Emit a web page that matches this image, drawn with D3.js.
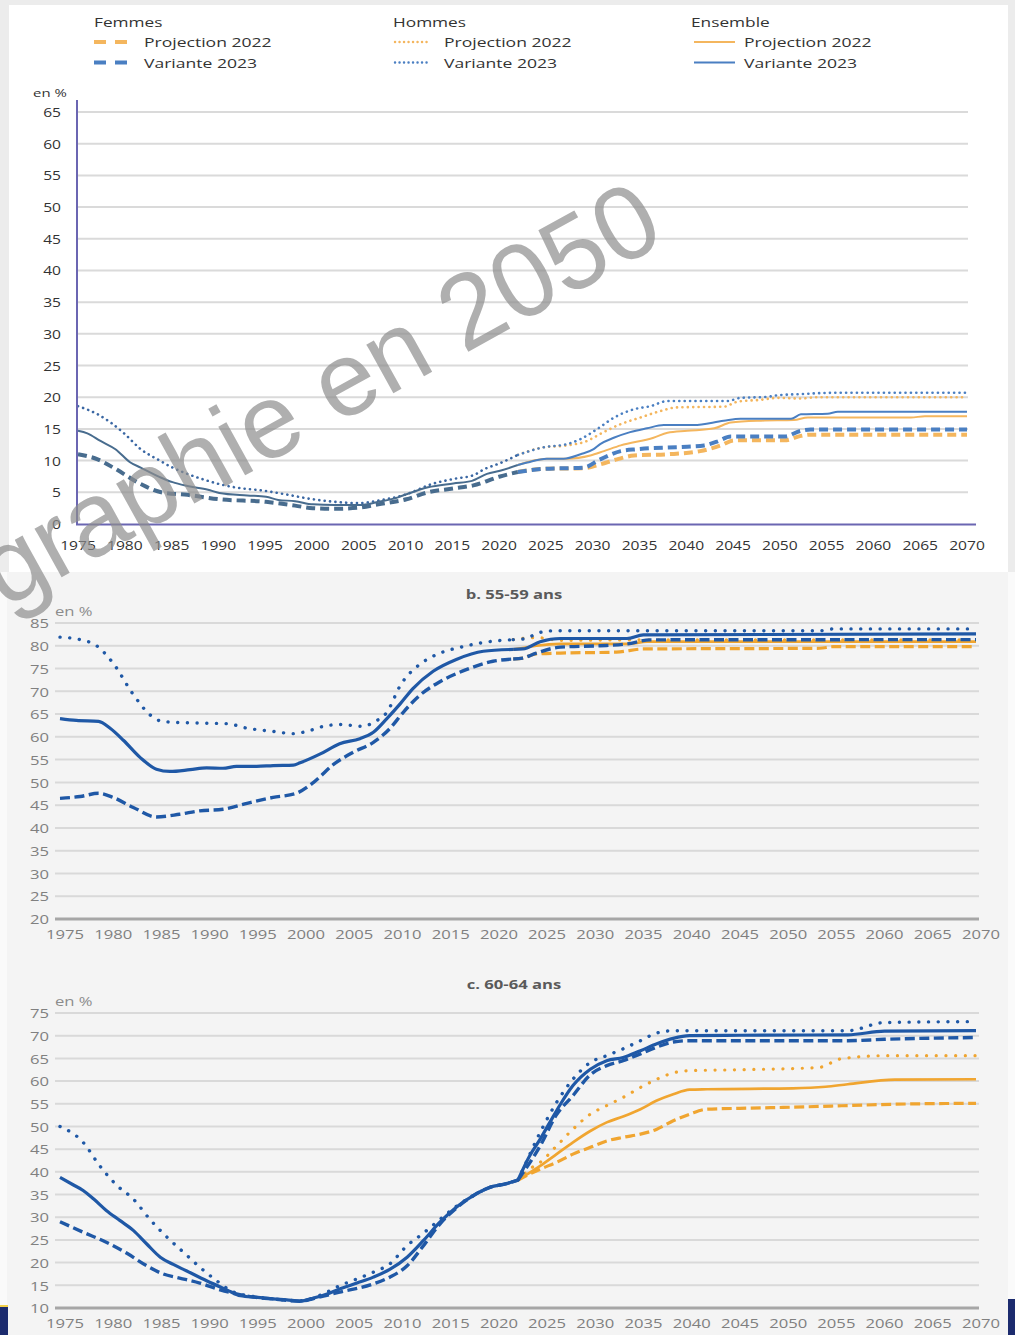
<!DOCTYPE html>
<html>
<head>
<meta charset="utf-8">
<script src="https://cdn.jsdelivr.net/npm/d3@7"></script>
<style>
  body { margin: 0; background: #ececec; }
  svg { display: block; font-family: "Open Sans", "Noto Sans", sans-serif; }
</style>
</head>
<body>
<svg id="chart" width="1015" height="1335"></svg>
<script>
// ---- tick labels / categories ----
const xTickYears = [1975, 1980, 1985, 1990, 1995, 2000, 2005, 2010, 2015, 2020, 2025, 2030, 2035, 2040, 2045, 2050, 2055, 2060, 2065, 2070];
const yTicksA = [0, 5, 10, 15, 20, 25, 30, 35, 40, 45, 50, 55, 60, 65];
const yTicksB = [20, 25, 30, 35, 40, 45, 50, 55, 60, 65, 70, 75, 80, 85];
const yTicksC = [10, 15, 20, 25, 30, 35, 40, 45, 50, 55, 60, 65, 70, 75];
const legendGroups = ['Femmes', 'Hommes', 'Ensemble'];
const legendItems = ['Projection 2022', 'Variante 2023'];
const panelTitles = ['b. 55-59 ans', 'c. 60-64 ans'];

// ---- panel a (top, [year, %]) ----
const aHistHommes = [[1975,18.6],[1977.1,17.3],[1978.5,16.0],[1980,14.2],[1981.7,11.8],[1983.5,10.2],[1985.1,8.9],[1986.7,7.9],[1988.9,6.8],[1990.1,6.3],[1991.7,5.8],[1995.1,5.2],[1997.1,4.7],[2000.1,3.9],[2002.4,3.5],[2005.1,3.3],[2007.1,3.7],[2010.1,4.7],[2012.8,6.3],[2015.1,7.1],[2017.25,7.7],[2018.5,8.7],[2020.1,9.6],[2022,10.9]];
const aHistEnsemble = [[1975,14.7],[1976,14.3],[1977.4,13.1],[1979,11.8],[1980.6,9.7],[1981.7,8.9],[1983.9,7.3],[1985.1,6.6],[1986.7,6.0],[1988.9,5.4],[1990.1,4.9],[1993.1,4.5],[1995.1,4.3],[1996.4,3.8],[1998.2,3.6],[2000.1,3.1],[2002.4,3.0],[2005.1,3.0],[2007.1,3.5],[2009.2,4.2],[2010.1,4.7],[2012.4,5.8],[2015.1,6.4],[2017.1,6.8],[2018.7,7.9],[2020.1,8.4],[2022,9.3]];
const aHistFemmes = [[1975,11.0],[1977.1,10.2],[1979,8.7],[1981.7,6.3],[1983.9,5.0],[1986.7,4.6],[1990.1,3.9],[1995.1,3.5],[1998.2,2.9],[2000.1,2.5],[2002.4,2.4],[2005.1,2.6],[2007.1,3.1],[2010.1,3.9],[2012.4,5.0],[2015.1,5.6],[2017.25,6.1],[2020.1,7.5],[2022,8.2]];
const aVarHommes = [[2022,10.9],[2024.75,12.1],[2027.25,12.6],[2028.7,13.4],[2030.5,15.0],[2032.3,16.8],[2034.4,18.1],[2036.2,18.6],[2038,19.4],[2044.4,19.4],[2045.8,19.9],[2048.6,20.05],[2049.7,20.3],[2052.25,20.5],[2055.8,20.7],[2070,20.7]];
const aProjHommes = [[2022,10.9],[2024.75,12.1],[2027.25,12.4],[2029.4,13.1],[2030.8,14.2],[2032.9,15.7],[2035.1,16.8],[2037.2,17.8],[2039,18.4],[2044,18.5],[2045.5,19.3],[2048,19.6],[2049.8,19.9],[2052.25,19.8],[2054,20.0],[2070,20.0]];
const aVarEnsemble = [[2022,9.3],[2023,9.7],[2025.1,10.3],[2026.9,10.3],[2028.7,11.0],[2030.1,11.8],[2030.8,12.6],[2032.25,13.6],[2034,14.5],[2035.8,15.1],[2037.6,15.6],[2040.8,15.6],[2044,16.3],[2045.8,16.6],[2051.2,16.6],[2052.25,17.3],[2055.1,17.4],[2056.2,17.7],[2070,17.7]];
const aProjEnsemble = [[2022,9.3],[2025.1,10.3],[2027.25,10.3],[2029.75,10.8],[2031.2,11.5],[2033,12.4],[2036.5,13.6],[2038,14.4],[2040.1,14.7],[2043,15.1],[2044.75,16.0],[2048,16.3],[2051.5,16.4],[2053,16.8],[2064,16.8],[2065.5,17.0],[2070,17.0]];
const aVarFemmes = [[2022,8.2],[2024.75,8.7],[2029,8.9],[2030.8,10.2],[2033,11.5],[2034.75,11.8],[2040.1,12.2],[2041.9,12.4],[2043.3,13.0],[2044.75,13.8],[2050.5,13.8],[2052.25,14.7],[2053.3,14.9],[2070,14.9]];
const aProjFemmes = [[2022,8.2],[2024.75,8.7],[2029,8.8],[2030.8,9.4],[2032.6,10.2],[2034.4,10.8],[2038,11.0],[2041.5,11.5],[2043.7,12.4],[2045.1,13.2],[2050.5,13.2],[2052.25,13.9],[2053.3,14.1],[2070,14.1]];

// ---- panel b : 55-59 ans ----
const bHistHommes = [[1975,81.9],[1977.1,81.35],[1978.8,80.0],[1980.5,76.2],[1982.6,69.3],[1984.3,64.9],[1985.4,63.5],[1986.8,63.2],[1990.2,63.0],[1992.3,62.9],[1994.4,61.9],[1997.1,61.2],[1999.2,60.7],[2000.6,61.2],[2002.3,62.3],[2004,62.7],[2006.5,62.3],[2007.5,63.2],[2008.9,65.4],[2010.3,71.3],[2012.3,75.9],[2013.7,77.7],[2017.2,80.0],[2019.9,81.0],[2022,81.35]];
const bHistEnsemble = [[1975,64.0],[1976.7,63.6],[1979,63.4],[1980.2,61.9],[1981.6,59.2],[1983.3,55.5],[1985,52.9],[1986.4,52.4],[1988.5,52.8],[1990.2,53.2],[1991.9,53.1],[1993.3,53.5],[1995.4,53.5],[1997.1,53.7],[1999.2,53.8],[1999.9,54.3],[2002,56.25],[2004,58.5],[2006.1,59.6],[2007.5,61.0],[2008.9,64.0],[2010.3,67.3],[2011.6,70.6],[2013.7,74.4],[2016.1,77.0],[2018.9,78.8],[2022,79.2]];
const bHistFemmes = [[1975,46.5],[1977.1,46.9],[1979,47.6],[1980.5,46.7],[1982.6,44.5],[1985,42.4],[1987.4,43.0],[1989.5,43.75],[1991.9,44.1],[1994.4,45.4],[1997.1,46.7],[1999.5,47.6],[2001.3,50.0],[2003.4,54.0],[2005.4,56.6],[2007.5,58.8],[2009.2,61.8],[2010.6,65.4],[2012.3,69.1],[2014.4,72.1],[2017.2,74.8],[2019.9,76.6],[2022,77.1]];
const bVarHommes = [[2022,81.35],[2023.4,81.6],[2024.4,82.7],[2026.2,83.3],[2053.8,83.3],[2055.2,83.7],[2070,83.7]];
const bProjHommes = [[2022,81.35],[2024.4,81.8],[2026.9,81.2],[2035.5,81.3],[2070,81.3]];
const bVarEnsemble = [[2022,79.2],[2023,79.3],[2024.8,80.9],[2026.9,81.6],[2033.8,81.6],[2035.5,82.4],[2070,82.6]];
const bProjEnsemble = [[2022,79.2],[2023,79.5],[2024.4,80.0],[2026.9,80.4],[2033.8,80.4],[2035.9,80.9],[2070,80.9]];
const bVarFemmes = [[2022,77.1],[2023,77.3],[2024.4,78.4],[2026.9,79.7],[2031,80.0],[2033.8,80.4],[2036.2,81.3],[2070,81.35]];
const bProjFemmes = [[2022,77.1],[2023,77.3],[2024.4,78.2],[2026.9,78.4],[2032.7,78.6],[2035.5,79.3],[2053.8,79.45],[2055.2,79.8],[2070,79.8]];

// ---- panel c : 60-64 ans ----
const cHistHommes = [[1975,50.0],[1977.4,46.5],[1979.1,41.4],[1980.9,37.0],[1982.6,34.0],[1984.3,29.6],[1986.1,25.6],[1987.8,22.3],[1989.5,19.0],[1991.25,16.0],[1993,13.5],[1995.5,12.4],[1997.1,12.0],[1999.9,11.6],[2002.3,13.1],[2004,14.9],[2005.8,16.4],[2007.5,17.9],[2009.2,19.7],[2011,23.75],[2012.7,26.5],[2014.4,29.5],[2016.1,32.4],[2017.9,34.8],[2019.6,36.6],[2021.3,37.4],[2022.5,38.2]];
const cHistEnsemble = [[1975,38.8],[1976.4,37.1],[1977.4,35.9],[1978.5,34.0],[1979.8,31.5],[1981.2,29.3],[1982.6,27.1],[1984,24.1],[1985.4,21.2],[1986.75,19.6],[1988.1,18.2],[1990.2,16.0],[1992.3,14.0],[1993.7,12.7],[1995.5,12.35],[1997.1,12.0],[1998.5,11.8],[1999.9,11.5],[2001.3,12.2],[2002.7,13.1],[2004,14.2],[2005.8,15.5],[2007.5,16.8],[2009.2,18.5],[2011,21.2],[2012.7,24.9],[2014.4,28.9],[2016.1,32.2],[2017.9,34.8],[2019.6,36.6],[2021.3,37.4],[2022.5,38.2]];
const cHistFemmes = [[1975,29.0],[1977.4,26.7],[1979.8,24.5],[1981.9,22.1],[1984,19.3],[1985.7,17.5],[1987.4,16.6],[1989.5,15.5],[1991.6,14.0],[1993.3,13.1],[1995.5,12.3],[1997.1,12.0],[1999.9,11.5],[2001.3,12.1],[2004,13.5],[2007.5,15.3],[2009.2,16.8],[2011,19.3],[2012.7,23.75],[2014.4,28.5],[2016.1,32.0],[2017.9,34.8],[2019.6,36.6],[2021.3,37.4],[2022.5,38.2]];
const cVarHommes = [[2022.5,38.2],[2022.7,39.1],[2024.8,48.7],[2026.5,55.3],[2028.2,60.4],[2030,64.1],[2031.7,65.6],[2033.4,67.1],[2035.2,68.9],[2036.9,70.6],[2038.6,71.1],[2056.7,71.1],[2060.5,72.9],[2070,73.1]];
const cProjHommes = [[2022.5,38.2],[2023.7,40.6],[2024.8,42.1],[2026.5,45.7],[2028.2,49.4],[2030,52.7],[2031.7,54.6],[2033.4,56.4],[2035.2,58.6],[2036.9,60.4],[2038.6,61.8],[2040.3,62.3],[2045.5,62.5],[2053.7,63.0],[2056,64.9],[2060.5,65.6],[2070,65.6]];
const cVarEnsemble = [[2022.5,38.2],[2023.7,43.5],[2024.8,47.2],[2025.8,50.9],[2026.9,54.9],[2028.2,59.0],[2030,62.6],[2031.7,64.5],[2033.4,65.2],[2035.2,66.7],[2036.9,68.2],[2038.6,69.4],[2040.3,70.0],[2045.5,70.1],[2056.7,70.2],[2060.5,71.0],[2070,71.1]];
const cProjEnsemble = [[2022.5,38.2],[2024.8,41.3],[2026.5,43.9],[2028.2,46.5],[2030,49.0],[2031.7,50.9],[2033.4,52.2],[2035.2,53.8],[2036.9,55.7],[2038.6,57.1],[2040.3,58.1],[2042.1,58.2],[2051,58.4],[2054.4,58.75],[2056.7,59.3],[2061.6,60.3],[2070,60.4]];
const cVarFemmes = [[2022.5,38.2],[2024.8,45.7],[2026.5,52.6],[2028.2,56.8],[2030,61.4],[2031.7,63.4],[2033.4,64.5],[2035.2,66.0],[2036.9,67.5],[2038.6,68.6],[2040.3,68.9],[2056.7,68.9],[2060.5,69.2],[2070,69.6]];
const cProjFemmes = [[2022.5,38.2],[2024.8,40.6],[2026.5,42.1],[2028.2,43.9],[2030,45.4],[2031.7,46.8],[2033.4,47.6],[2035.2,48.3],[2036.9,49.4],[2038.6,51.25],[2040.3,52.7],[2042.1,53.8],[2045.5,54.0],[2050,54.2],[2056.7,54.6],[2061.6,54.9],[2070,55.1]];

const svg = d3.select('#chart');

// text drawn slightly stretched, like the (widened) source image
function label(g, x, y, str, o) {
    return g.append('text')
        .attr('transform', 'translate(' + x + ',' + y + ') scale(' + (o.sx || 1.28) + ',1)')
        .attr('text-anchor', o.anchor || 'start')
        .attr('dominant-baseline', 'central')
        .style('font-size', o.size + 'px')
        .style('font-weight', o.weight || 'normal')
        .attr('fill', o.fill || '#333')
        .text(str);
}

function drawLine(g, x, y, data, color, kind, theme) {
    const st = theme[kind];
    const gen = d3.line().x(d => x(d[0])).y(d => y(d[1])).curve(d3.curveMonotoneX);
    g.append('path')
        .attr('d', gen(data))
        .attr('fill', 'none')
        .attr('stroke', color)
        .attr('stroke-width', st.w)
        .attr('stroke-dasharray', st.dash || null)
        .attr('stroke-linecap', st.cap || 'butt')
        .attr('stroke-linejoin', 'round');
}

// ---- backgrounds ----
svg.append('rect').attr('x', 0).attr('y', 572).attr('width', 1015).attr('height', 763).attr('fill', '#fafafa');
svg.append('rect').attr('x', 9).attr('y', 5).attr('width', 999).attr('height', 567).attr('fill', '#fff');
svg.append('rect').attr('x', 7).attr('y', 572).attr('width', 1001).attr('height', 763).attr('fill', '#f4f4f4');
svg.append('rect').attr('x', 0).attr('y', 1305).attr('width', 8).attr('height', 2).attr('fill', '#f2d04a');
svg.append('rect').attr('x', 0).attr('y', 1307).attr('width', 8).attr('height', 28).attr('fill', '#1c2b6e');
svg.append('rect').attr('x', 1008).attr('y', 1299).attr('width', 7).attr('height', 36).attr('fill', '#1c2b6e');

// ================= panel a =================
const themeA = {
    solid:  { w: 2 },
    dashed: { w: 4, dash: '9 5' },
    dotted: { w: 2.6, dash: '0.1 5.3', cap: 'round' }
};
const orangeA = '#f4b65e', blueA = '#4a7fc2', histA = '#486c8e', histDotA = '#3a67a3';

const xA = d3.scaleLinear().domain([1975, 2070]).range([78, 967]);
const yA = d3.scaleLinear().domain([0, 65]).range([524, 112]);
const gA = svg.append('g');

gA.selectAll('line.grid').data(yTicksA.filter(v => v > 0)).enter().append('line')
    .attr('x1', 77).attr('x2', 968)
    .attr('y1', d => yA(d)).attr('y2', d => yA(d))
    .attr('stroke', '#dadada').attr('stroke-width', 2);

yTicksA.forEach(v => label(gA, 61, yA(v), String(v), { size: 13, sx: 1.2, anchor: 'end', fill: '#333' }));
xTickYears.forEach(v => label(gA, xA(v), 545, String(v), { size: 13, sx: 1.2, anchor: 'middle', fill: '#333' }));
label(gA, 33, 93, 'en %', { size: 11.5, sx: 1.3, fill: '#333' });

drawLine(gA, xA, yA, aProjFemmes, orangeA, 'dashed', themeA);
drawLine(gA, xA, yA, aProjHommes, orangeA, 'dotted', themeA);
drawLine(gA, xA, yA, aProjEnsemble, orangeA, 'solid', themeA);
drawLine(gA, xA, yA, aVarFemmes, blueA, 'dashed', themeA);
drawLine(gA, xA, yA, aVarHommes, blueA, 'dotted', themeA);
drawLine(gA, xA, yA, aVarEnsemble, blueA, 'solid', themeA);
drawLine(gA, xA, yA, aHistFemmes, histA, 'dashed', themeA);
drawLine(gA, xA, yA, aHistHommes, histDotA, 'dotted', themeA);
drawLine(gA, xA, yA, aHistEnsemble, histA, 'solid', themeA);

// axes lines
gA.append('line').attr('x1', 77).attr('x2', 77).attr('y1', 100).attr('y2', 525)
    .attr('stroke', '#6b66b2').attr('stroke-width', 2);
gA.append('line').attr('x1', 76).attr('x2', 976).attr('y1', 524.5).attr('y2', 524.5)
    .attr('stroke', '#6b66b2').attr('stroke-width', 2);

// legend
const legCols = [94, 393, 691];
const legKinds = ['dashed', 'dotted', 'solid'];
const legRows = [42, 62.5];
const legSample = {
    dashed: { x1: 94, x2: 129, w: 4, dash: '12 9' },
    dotted: { x1: 395, x2: 431, w: 2.4, dash: '0.1 4.4', cap: 'round' },
    solid:  { x1: 694, x2: 735, w: 2 }
};
const legTextX = [144, 444, 744];
legendGroups.forEach((name, i) => {
    label(gA, legCols[i], 22, name, { size: 13.5, sx: 1.28, fill: '#333' });
    legendItems.forEach((item, j) => {
        const s = legSample[legKinds[i]];
        gA.append('line')
            .attr('x1', s.x1).attr('x2', s.x2).attr('y1', legRows[j]).attr('y2', legRows[j])
            .attr('stroke', j === 0 ? orangeA : blueA)
            .attr('stroke-width', s.w)
            .attr('stroke-dasharray', s.dash || null)
            .attr('stroke-linecap', s.cap || 'butt');
        label(gA, legTextX[i], legRows[j], item, { size: 13.5, sx: 1.3, fill: '#333' });
    });
});

// ================= panels b and c =================
const themeBC = {
    solid:  { w: 3.2 },
    dashed: { w: 3.4, dash: '10 4.5' },
    dotted: { w: 3.4, dash: '0.1 9.6', cap: 'round' }
};
const themeBCo = {
    solid:  { w: 2.7 },
    dashed: { w: 3.2, dash: '10 4.5' },
    dotted: { w: 3.2, dash: '0.1 9.6', cap: 'round' }
};
const orangeBC = '#f0a530', blueBC = '#1f58a6';

function lowerPanel(title, ticks, top, bottom, titleY, series) {
    const x = d3.scaleLinear().domain([1975, 2070]).range([60, 976]);
    const y = d3.scaleLinear().domain([ticks[0], ticks[ticks.length - 1]]).range([bottom, top]);
    const g = svg.append('g');

    g.selectAll('line.grid').data(ticks.slice(1)).enter().append('line')
        .attr('x1', 55).attr('x2', 979)
        .attr('y1', d => y(d)).attr('y2', d => y(d))
        .attr('stroke', '#d9d9d9').attr('stroke-width', 2);
    g.append('line').attr('x1', 55).attr('x2', 979)
        .attr('y1', y(ticks[0])).attr('y2', y(ticks[0]))
        .attr('stroke', '#a6a6a6').attr('stroke-width', 3);

    ticks.forEach(v => label(g, 49, y(v), String(v), { size: 13, fill: '#808080', anchor: 'end' }));
    xTickYears.forEach(v => label(g, x(v) + 5, bottom + 15, String(v), { size: 13, fill: '#808080', anchor: 'middle' }));
    label(g, 55, top - 12, 'en %', { size: 13, fill: '#8c8c8c' });
    label(g, 514, titleY, title, { size: 13, weight: 'bold', fill: '#5a5a5a', anchor: 'middle' });

    drawLine(g, x, y, series.projF, orangeBC, 'dashed', themeBCo);
    drawLine(g, x, y, series.projH, orangeBC, 'dotted', themeBCo);
    drawLine(g, x, y, series.projE, orangeBC, 'solid', themeBCo);
    drawLine(g, x, y, series.varF, blueBC, 'dashed', themeBC);
    drawLine(g, x, y, series.varH, blueBC, 'dotted', themeBC);
    drawLine(g, x, y, series.varE, blueBC, 'solid', themeBC);
    drawLine(g, x, y, series.histF, blueBC, 'dashed', themeBC);
    drawLine(g, x, y, series.histH, blueBC, 'dotted', themeBC);
    drawLine(g, x, y, series.histE, blueBC, 'solid', themeBC);
}

lowerPanel(panelTitles[0], yTicksB, 623, 919, 594, {
    histF: bHistFemmes, histH: bHistHommes, histE: bHistEnsemble,
    projF: bProjFemmes, projH: bProjHommes, projE: bProjEnsemble,
    varF: bVarFemmes, varH: bVarHommes, varE: bVarEnsemble
});
lowerPanel(panelTitles[1], yTicksC, 1013, 1308, 984, {
    histF: cHistFemmes, histH: cHistHommes, histE: cHistEnsemble,
    projF: cProjFemmes, projH: cProjHommes, projE: cProjEnsemble,
    varF: cVarFemmes, varH: cVarHommes, varE: cVarEnsemble
});

// watermark across the top panel
svg.append('text')
    .attr('transform', 'translate(668,241) rotate(-29)')
    .attr('text-anchor', 'end')
    .style('font-family', '"Liberation Sans", Arial, sans-serif')
    .style('font-size', '105px')
    .attr('fill', '#8e8e8e')
    .attr('opacity', 0.7)
    .text('Démographie en 2050');
</script>
</body>
</html>
